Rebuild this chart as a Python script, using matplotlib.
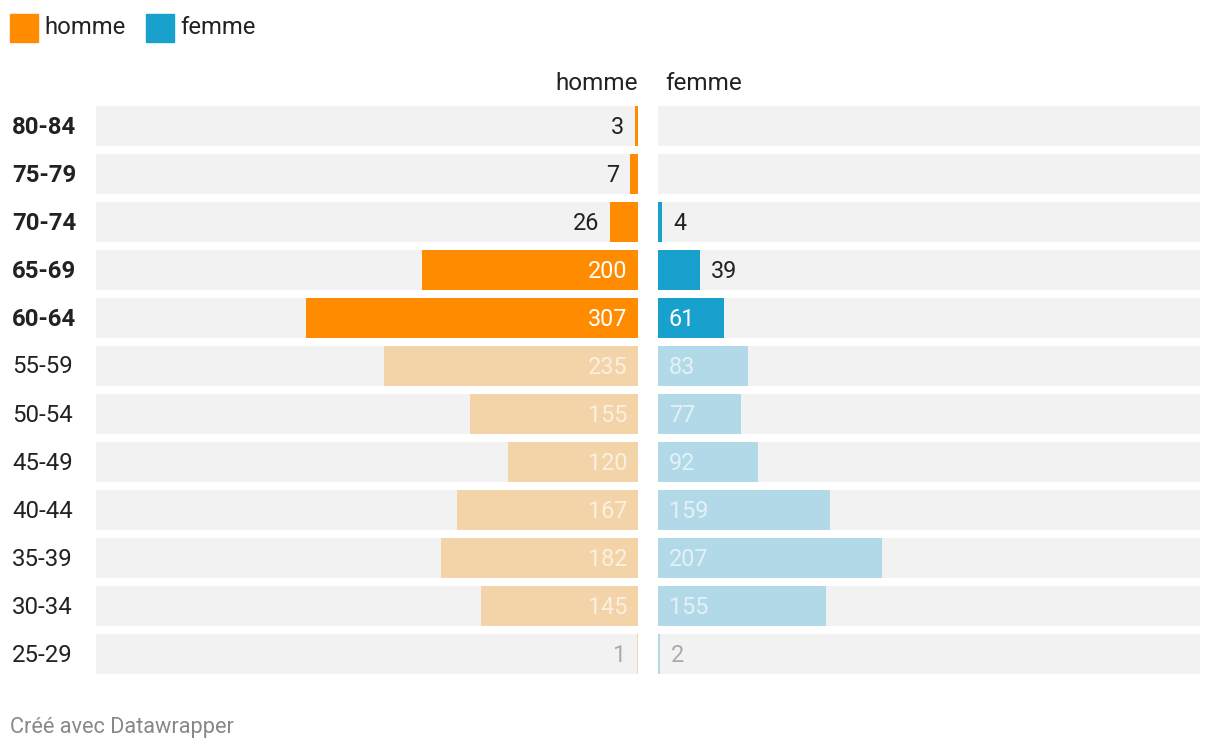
import numpy as np
import matplotlib.pyplot as plt
from matplotlib.transforms import offset_copy

plt.rcParams['font.family'] = ['Roboto', 'DejaVu Sans']

# data, top row first
ages = ['80-84', '75-79', '70-74', '65-69', '60-64', '55-59',
        '50-54', '45-49', '40-44', '35-39', '30-34', '25-29']
homme = [3, 7, 26, 200, 307, 235, 155, 120, 167, 182, 145, 1]
femme = [0, 0, 4, 39, 61, 83, 77, 92, 159, 207, 155, 2]
highlight = [True, True, True, True, True, False, False, False, False, False, False, False]

xmax = 501
W, H = 1220, 752

orange = '#ff8c00'
orange_light = '#f3d4a9'
blue = '#18a1cd'
blue_light = '#b1d9e7'
grey_bg = '#f2f2f2'
dark = '#222222'

fig = plt.figure(figsize=(W / 100, H / 100), dpi=100)

def fx(px):
    return px / W

def fy(py):
    return 1 - py / H

top, bottom = 102, 678
ax_h = fig.add_axes([fx(96), fy(bottom), fx(638 - 96), (bottom - top) / H])
ax_f = fig.add_axes([fx(658), fy(bottom), fx(1200 - 658), (bottom - top) / H])

y = np.arange(len(ages))
bh = 40 / 48

for ax, vals, col, col_l, side in [(ax_h, homme, orange, orange_light, 'left'),
                                    (ax_f, femme, blue, blue_light, 'right')]:
    ax.barh(y, [xmax] * len(y), height=bh, color=grey_bg, linewidth=0)
    colors = [col if h else col_l for h in highlight]
    ax.barh(y, vals, height=bh, color=colors, linewidth=0)
    ax.set_ylim(len(y) - 0.5, -0.5)
    if side == 'left':
        ax.set_xlim(xmax, 0)
    else:
        ax.set_xlim(0, xmax)
    ax.axis('off')

    sign = -1 if side == 'left' else 1
    for i, v in enumerate(vals):
        if v == 0:
            continue
        tr = offset_copy(ax.transData, fig=fig, x=sign * 11, units='dots')
        if v > 45:
            # inside the bar, at its base
            xpos = 0
            tcol = '#ffffff'
            alpha = 1 if highlight[i] else 0.65
        else:
            xpos = v
            tcol = dark if highlight[i] else '#aaaaaa'
            alpha = 1
        ha = 'right' if side == 'left' else 'left'
        ax.text(xpos, i + 0.03, str(v), transform=tr, ha=ha, va='center',
                fontsize=16.8, color=tcol, alpha=alpha)

# row labels
for i, a in enumerate(ages):
    fig.text(fx(12), fy(127 + 48 * i), a, ha='left', va='center', fontsize=17.3,
             color=dark, fontweight='bold' if highlight[i] else 'normal')

# column headers
fig.text(fx(638), fy(84), 'homme', ha='right', va='center', fontsize=17.5, color=dark)
fig.text(fx(665), fy(84), 'femme', ha='left', va='center', fontsize=17.5, color=dark)

# legend
for x0, c, lab in [(10, orange, 'homme'), (146, blue, 'femme')]:
    fig.patches.append(plt.Rectangle((fx(x0), fy(42)), fx(28), 28 / H,
                                     transform=fig.transFigure, color=c, figure=fig))
    fig.text(fx(x0 + 34), fy(27), lab, ha='left', va='center', fontsize=17.2, color=dark)

fig.text(fx(10), fy(728), 'Créé avec Datawrapper', ha='left', va='center',
         fontsize=15.7, color='#888888')

fig.savefig('out.png', dpi=100, facecolor='white')
